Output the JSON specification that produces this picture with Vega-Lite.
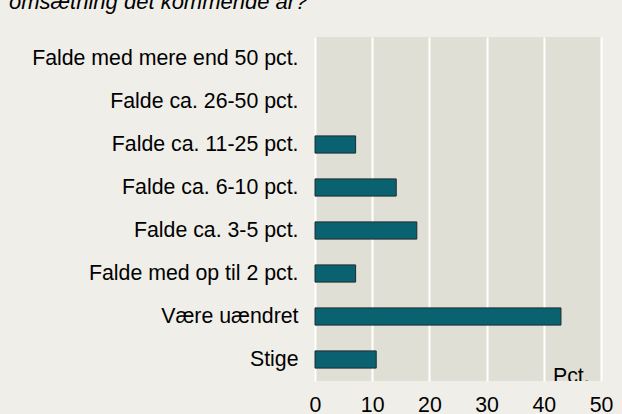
{
  "$schema": "https://vega.github.io/schema/vega-lite/v6.json",
  "autosize": "none",
  "width": 286,
  "height": 344,
  "padding": {"left": 315, "top": 37, "right": 21, "bottom": 33},
  "background": "#EFEEE8",
  "title": {
    "text": "omsætning det kommende år?",
    "anchor": "start",
    "frame": "group",
    "orient": "top",
    "offset": 6,
    "baseline": "alphabetic",
    "dx": -306,
    "font": "Liberation Sans",
    "fontSize": 22,
    "fontStyle": "italic",
    "fontWeight": "normal",
    "color": "#000000"
  },
  "config": {
    "view": {"fill": "#E0DFD5", "stroke": null},
    "font": "Liberation Sans"
  },
  "data": {
    "values": [
      {"category": "Falde med mere end 50 pct.", "value": 0},
      {"category": "Falde ca. 26-50 pct.", "value": 0},
      {"category": "Falde ca. 11-25 pct.", "value": 7.1},
      {"category": "Falde ca. 6-10 pct.", "value": 14.2},
      {"category": "Falde ca. 3-5 pct.", "value": 17.8},
      {"category": "Falde med op til 2 pct.", "value": 7.1},
      {"category": "Være uændret", "value": 43.0},
      {"category": "Stige", "value": 10.7}
    ]
  },
  "encoding": {
    "y": {
      "field": "category",
      "type": "nominal",
      "sort": null,
      "scale": {
        "domain": ["Falde med mere end 50 pct.", "Falde ca. 26-50 pct.", "Falde ca. 11-25 pct.", "Falde ca. 6-10 pct.", "Falde ca. 3-5 pct.", "Falde med op til 2 pct.", "Være uændret", "Stige"],
        "paddingInner": 0.6,
        "paddingOuter": 0.3
      },
      "axis": {
        "title": null,
        "ticks": false,
        "domain": false,
        "labelFontSize": 21.3,
        "labelColor": "#000000",
        "labelPadding": 17,
        "labelLimit": 400
      }
    }
  },
  "layer": [
    {
      "transform": [{"filter": "datum.value > 0"}],
      "mark": {"type": "bar", "fill": "#0A6270", "stroke": "#1B2B2E", "strokeWidth": 1},
      "encoding": {
        "x": {
          "field": "value",
          "type": "quantitative",
          "scale": {"domain": [0, 50], "nice": false},
          "axis": {
            "title": null,
            "values": [0, 10, 20, 30, 40, 50],
            "ticks": false,
            "domain": false,
            "grid": true,
            "gridColor": "#FFFFFF",
            "gridWidth": 2,
            "gridOpacity": 1,
            "labelFontSize": 21.3,
            "labelColor": "#000000",
            "labelPadding": 13,
            "labelFlush": false
          }
        }
      }
    },
    {
      "data": {"values": [{"label": "Pct."}]},
      "mark": {"type": "text", "align": "left", "baseline": "alphabetic", "dy": 23, "clip": true, "fontSize": 21.3, "color": "#000000"},
      "encoding": {
        "x": {"datum": 41.6, "type": "quantitative"},
        "y": {"datum": "Stige"},
        "text": {"field": "label"}
      }
    }
  ]
}
